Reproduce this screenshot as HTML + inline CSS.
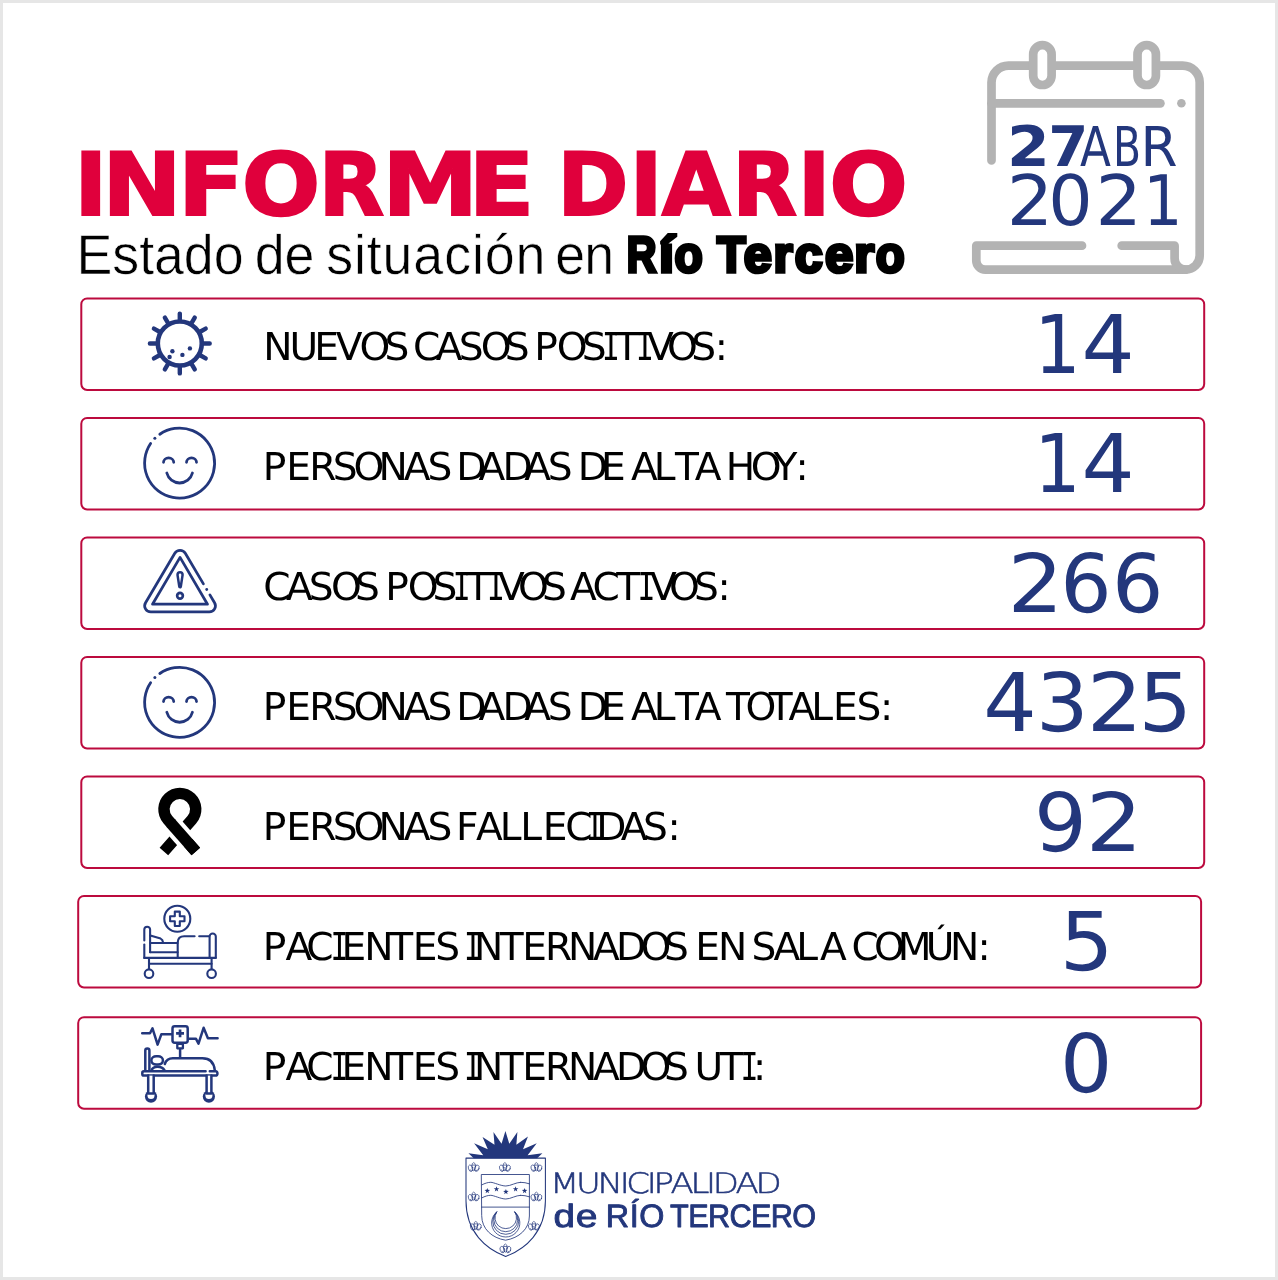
<!DOCTYPE html>
<html lang="es">
<head>
<meta charset="utf-8">
<title>Informe Diario - Río Tercero</title>
<style>
html,body{margin:0;padding:0;background:#fff;}
body{width:1278px;height:1280px;overflow:hidden;position:relative;}
svg{display:block;position:absolute;left:0;top:0;}
text{white-space:pre;font-kerning:none;text-rendering:geometricPrecision;}
</style>
</head>
<body>
<svg width="1278" height="1280" viewBox="0 0 1278 1280">
<rect x="0" y="0" width="1278" height="1280" fill="#e6e6e6"/>
<rect x="3" y="3" width="1272" height="1274" fill="#ffffff"/>

<!-- title -->
<text id="title" y="215.00" font-family="'DejaVu Sans','Liberation Sans',sans-serif" font-weight="bold" font-size="87" fill="#E0003C" stroke="#E0003C" stroke-width="2" stroke-linejoin="miter"><tspan x="74.15" textLength="33.05" lengthAdjust="spacingAndGlyphs">I</tspan><tspan x="102.29" textLength="79.42" lengthAdjust="spacingAndGlyphs">N</tspan><tspan x="177.73" textLength="66.79" lengthAdjust="spacingAndGlyphs">F</tspan><tspan x="241.70" textLength="78.55" lengthAdjust="spacingAndGlyphs">O</tspan><tspan x="318.56" textLength="65.75" lengthAdjust="spacingAndGlyphs">R</tspan><tspan x="382.15" textLength="95.95" lengthAdjust="spacingAndGlyphs">M</tspan><tspan x="468.64" textLength="65.93" lengthAdjust="spacingAndGlyphs">E</tspan><tspan> </tspan><tspan x="557.22" textLength="71.27" lengthAdjust="spacingAndGlyphs">D</tspan><tspan x="629.60" textLength="33.25" lengthAdjust="spacingAndGlyphs">I</tspan><tspan x="661.86" textLength="68.97" lengthAdjust="spacingAndGlyphs">A</tspan><tspan x="732.26" textLength="64.93" lengthAdjust="spacingAndGlyphs">R</tspan><tspan x="797.60" textLength="33.25" lengthAdjust="spacingAndGlyphs">I</tspan><tspan x="829.19" textLength="78.66" lengthAdjust="spacingAndGlyphs">O</tspan></text>
<text id="sub1" y="274.30" font-family="'Liberation Sans',sans-serif" font-size="56" fill="#000" stroke="#fff" stroke-width="0.6" stroke-linejoin="round" transform="scale(0.96 1)"><tspan x="79.78" letter-spacing="-0.084">Estado </tspan><tspan x="265.36" letter-spacing="-0.262">de </tspan><tspan x="339.80" letter-spacing="0.913">situación </tspan><tspan x="578.45" letter-spacing="-0.961">en</tspan></text>
<text id="sub2" y="272.30" font-family="'Liberation Sans',sans-serif" font-weight="bold" font-size="50.7" fill="#000" stroke="#000" stroke-width="3.6" stroke-linejoin="miter"><tspan x="626.85" textLength="29.69" lengthAdjust="spacingAndGlyphs">R</tspan><tspan x="659.00" textLength="14.95" lengthAdjust="spacingAndGlyphs">í</tspan><tspan x="674.40" textLength="28.21" lengthAdjust="spacingAndGlyphs">o</tspan><tspan> </tspan><tspan x="717.07" textLength="28.63" lengthAdjust="spacingAndGlyphs">T</tspan><tspan x="743.73" textLength="28.10" lengthAdjust="spacingAndGlyphs">e</tspan><tspan x="773.55" textLength="19.20" lengthAdjust="spacingAndGlyphs">r</tspan><tspan x="794.83" textLength="28.05" lengthAdjust="spacingAndGlyphs">c</tspan><tspan x="824.91" textLength="28.33" lengthAdjust="spacingAndGlyphs">e</tspan><tspan x="854.22" textLength="19.96" lengthAdjust="spacingAndGlyphs">r</tspan><tspan x="875.75" textLength="28.90" lengthAdjust="spacingAndGlyphs">o</tspan></text>
<!-- rows -->
<rect x="81.3" y="298.4" width="1122.9" height="91.5" rx="5.8" ry="5.8" fill="#fff" stroke="#BC0A3E" stroke-width="2"/>
<rect x="81.3" y="417.9" width="1122.9" height="91.5" rx="5.8" ry="5.8" fill="#fff" stroke="#BC0A3E" stroke-width="2"/>
<rect x="81.3" y="537.4" width="1122.9" height="91.5" rx="5.8" ry="5.8" fill="#fff" stroke="#BC0A3E" stroke-width="2"/>
<rect x="81.3" y="656.9" width="1122.9" height="91.5" rx="5.8" ry="5.8" fill="#fff" stroke="#BC0A3E" stroke-width="2"/>
<rect x="81.3" y="776.4" width="1122.9" height="91.5" rx="5.8" ry="5.8" fill="#fff" stroke="#BC0A3E" stroke-width="2"/>
<rect x="78.2" y="895.9" width="1122.9" height="91.5" rx="5.8" ry="5.8" fill="#fff" stroke="#BC0A3E" stroke-width="2"/>
<rect x="78.2" y="1017.2" width="1122.9" height="91.5" rx="5.8" ry="5.8" fill="#fff" stroke="#BC0A3E" stroke-width="2"/>
<text id="lab0" y="360.40" font-family="'DejaVu Sans','Liberation Sans',sans-serif" font-size="38.4" fill="#000" transform="scale(1.02 1)"><tspan x="258.00 283.82 308.09 329.11 352.55 376.93">NUEVOS </tspan><tspan x="405.00 427.17 449.67 471.28 494.97">CASOS </tspan><tspan x="523.78 545.83 570.26">POS</tspan><tspan font-family="'DejaVu Sans Mono','DejaVu Sans',monospace" x="590.15" textLength="17.57" lengthAdjust="spacingAndGlyphs">I</tspan><tspan x="603.27">T</tspan><tspan font-family="'DejaVu Sans Mono','DejaVu Sans',monospace" x="623.58" textLength="17.57" lengthAdjust="spacingAndGlyphs">I</tspan><tspan x="634.41 654.02 677.62 700.79">VOS:</tspan></text>
<text id="lab1" y="480.40" font-family="'DejaVu Sans','Liberation Sans',sans-serif" font-size="38.4" fill="#000" transform="scale(1.02 1)"><tspan x="257.60 280.59 303.29 326.24 346.67 371.13 395.80 419.09">PERSONAS </tspan><tspan x="447.41 469.23 492.60 514.03 537.13">DADAS </tspan><tspan x="566.33 589.27">DE </tspan><tspan x="618.74 640.94 661.70 681.19">ALTA </tspan><tspan x="711.43 736.08 758.32 779.81">HOY:</tspan></text>
<text id="lab2" y="600.40" font-family="'DejaVu Sans','Liberation Sans',sans-serif" font-size="38.4" fill="#000" transform="scale(1.02 1)"><tspan x="258.14 280.31 302.81 324.41 348.11">CASOS </tspan><tspan x="377.60 399.66 424.09">POS</tspan><tspan font-family="'DejaVu Sans Mono','DejaVu Sans',monospace" x="443.98" textLength="17.57" lengthAdjust="spacingAndGlyphs">I</tspan><tspan x="457.10">T</tspan><tspan font-family="'DejaVu Sans Mono','DejaVu Sans',monospace" x="477.41" textLength="17.57" lengthAdjust="spacingAndGlyphs">I</tspan><tspan x="488.23 507.84 531.44">VOS </tspan><tspan x="558.84 580.78 604.20">ACT</tspan><tspan font-family="'DejaVu Sans Mono','DejaVu Sans',monospace" x="624.96" textLength="17.57" lengthAdjust="spacingAndGlyphs">I</tspan><tspan x="637.15 655.98 680.36 703.44">VOS:</tspan></text>
<text id="lab3" y="720.40" font-family="'DejaVu Sans','Liberation Sans',sans-serif" font-size="38.4" fill="#000" transform="scale(1.02 1)"><tspan x="257.60 280.59 303.29 326.24 346.67 371.13 395.80 419.09">PERSONAS </tspan><tspan x="447.41 469.23 492.60 514.03 537.13">DADAS </tspan><tspan x="566.33 589.27">DE </tspan><tspan x="618.74 640.94 661.70 681.19">ALTA </tspan><tspan x="711.75 730.88 753.57 772.95 795.25 816.72 839.67 862.85">TOTALES:</tspan></text>
<text id="lab4" y="840.40" font-family="'DejaVu Sans','Liberation Sans',sans-serif" font-size="38.4" fill="#000" transform="scale(1.02 1)"><tspan x="257.60 280.59 303.29 326.24 346.67 371.13 395.80 419.09">PERSONAS </tspan><tspan x="447.02 466.78 489.86 510.15 532.21 554.12">FALLEC</tspan><tspan font-family="'DejaVu Sans Mono','DejaVu Sans',monospace" x="574.56" textLength="17.57" lengthAdjust="spacingAndGlyphs">I</tspan><tspan x="584.66 608.54 630.36 654.32">DAS:</tspan></text>
<text id="lab5" y="960.40" font-family="'DejaVu Sans','Liberation Sans',sans-serif" font-size="38.4" fill="#000" transform="scale(1.02 1)"><tspan x="257.60 279.91 300.29">PAC</tspan><tspan font-family="'DejaVu Sans Mono','DejaVu Sans',monospace" x="324.07" textLength="17.57" lengthAdjust="spacingAndGlyphs">I</tspan><tspan x="334.76 357.02 381.61 404.56 426.73">ENTES </tspan><tspan font-family="'DejaVu Sans Mono','DejaVu Sans',monospace" x="454.96" textLength="17.57" lengthAdjust="spacingAndGlyphs">I</tspan><tspan x="464.76 490.04 511.92 534.37 556.82 581.29 603.98 628.04 650.95">NTERNADOS </tspan><tspan x="681.53 703.98">EN </tspan><tspan x="736.73 758.25 780.64 804.03">SALA </tspan><tspan x="834.90 856.96 880.15 907.54 931.43 958.25">COMÚN:</tspan></text>
<text id="lab6" y="1080.40" font-family="'DejaVu Sans','Liberation Sans',sans-serif" font-size="38.4" fill="#000" transform="scale(1.02 1)"><tspan x="257.60 279.91 300.29">PAC</tspan><tspan font-family="'DejaVu Sans Mono','DejaVu Sans',monospace" x="324.07" textLength="17.57" lengthAdjust="spacingAndGlyphs">I</tspan><tspan x="334.76 357.02 381.61 404.56 426.73">ENTES </tspan><tspan font-family="'DejaVu Sans Mono','DejaVu Sans',monospace" x="454.96" textLength="17.57" lengthAdjust="spacingAndGlyphs">I</tspan><tspan x="464.76 490.04 511.92 534.37 556.82 581.29 603.98 628.04 650.95">NTERNADOS </tspan><tspan x="680.78 705.53">UT</tspan><tspan font-family="'DejaVu Sans Mono','DejaVu Sans',monospace" x="726.03" textLength="17.57" lengthAdjust="spacingAndGlyphs">I</tspan><tspan x="738.25">:</tspan></text>
<text id="num0" y="372.80" font-family="'DejaVu Sans','Liberation Sans',sans-serif" font-size="81" fill="#23377C"><tspan x="1034.18" textLength="46.46" lengthAdjust="spacingAndGlyphs">1</tspan><tspan x="1081.52" textLength="53.17" lengthAdjust="spacingAndGlyphs">4</tspan></text>
<text id="num1" y="492.30" font-family="'DejaVu Sans','Liberation Sans',sans-serif" font-size="81" fill="#23377C"><tspan x="1034.18" textLength="46.46" lengthAdjust="spacingAndGlyphs">1</tspan><tspan x="1081.52" textLength="53.17" lengthAdjust="spacingAndGlyphs">4</tspan></text>
<text id="num2" y="611.80" font-family="'DejaVu Sans','Liberation Sans',sans-serif" font-size="81" fill="#23377C"><tspan x="1007.46" textLength="55.94" lengthAdjust="spacingAndGlyphs">2</tspan><tspan x="1060.15" textLength="51.44" lengthAdjust="spacingAndGlyphs">6</tspan><tspan x="1112.05" textLength="51.44" lengthAdjust="spacingAndGlyphs">6</tspan></text>
<text id="num3" y="731.30" font-family="'DejaVu Sans','Liberation Sans',sans-serif" font-size="81" fill="#23377C"><tspan x="983.39" textLength="53.53" lengthAdjust="spacingAndGlyphs">4</tspan><tspan x="1036.10" textLength="52.62" lengthAdjust="spacingAndGlyphs">3</tspan><tspan x="1086.86" textLength="55.94" lengthAdjust="spacingAndGlyphs">2</tspan><tspan x="1138.61" textLength="53.55" lengthAdjust="spacingAndGlyphs">5</tspan></text>
<text id="num4" y="850.80" font-family="'DejaVu Sans','Liberation Sans',sans-serif" font-size="81" fill="#23377C"><tspan x="1034.06" textLength="52.88" lengthAdjust="spacingAndGlyphs">9</tspan><tspan x="1085.67" textLength="56.77" lengthAdjust="spacingAndGlyphs">2</tspan></text>
<text id="num5" y="970.30" font-family="'DejaVu Sans','Liberation Sans',sans-serif" font-size="81" fill="#23377C"><tspan x="1059.67" textLength="53.82" lengthAdjust="spacingAndGlyphs">5</tspan></text>
<text id="num6" y="1091.60" font-family="'DejaVu Sans','Liberation Sans',sans-serif" font-size="81" fill="#23377C"><tspan x="1059.97" textLength="52.40" lengthAdjust="spacingAndGlyphs">0</tspan></text>
<!-- icons -->
<g id="ico-virus" fill="none" stroke="#23377C" stroke-linecap="round">
<circle cx="179.8" cy="343.5" r="22" stroke-width="4.6"/>
<path d="M203.8,343.5 L209.7,343.5 M200.58,355.5 L205.69,358.45 M191.8,364.28 L194.75,369.39 M179.8,367.5 L179.8,373.4 M167.8,364.28 L164.85,369.39 M159.02,355.5 L153.91,358.45 M155.8,343.5 L149.9,343.5 M159.02,331.5 L153.91,328.55 M167.8,322.72 L164.85,317.61 M179.8,319.5 L179.8,313.6 M191.8,322.72 L194.75,317.61 M200.58,331.5 L205.69,328.55" stroke-width="4.4"/>
<circle cx="172.4" cy="351.2" r="2.2" fill="#23377C" stroke="none"/>
<circle cx="169.6" cy="357" r="2.2" fill="#23377C" stroke="none"/>
<circle cx="182.4" cy="354.9" r="2.2" fill="#23377C" stroke="none"/>
<circle cx="189.9" cy="348.4" r="2.2" fill="#23377C" stroke="none"/>
</g>
<g id="ico-smile1" fill="none" stroke="#23377C" stroke-width="2.8" stroke-linecap="round">
<path d="M159.8,434.26 A35 35 0 1 1 150.6,443.53"/>
<circle cx="154.87" cy="438.35" r="1.5" fill="#23377C" stroke="none"/>
<path d="M163.52,462.3 A5.1 4.4 0 0 1 173.72,462.3"/>
<path d="M186.52,462.3 A5.0 4.4 0 0 1 196.52,462.3"/>
<path d="M166.82,473 A13.2 13.2 0 0 0 192.42,473"/>
</g>
<g id="ico-warn" fill="none" stroke="#23377C" stroke-width="2.75" stroke-linecap="round" stroke-linejoin="round">
<path d="M209.91,594.9 L214.55,602.74 A6.1 6.1 0 0 1 209.3,611.95 L150.8,611.95 A6.1 6.1 0 0 1 145.55,602.74 L174.8,553.29 A6.1 6.1 0 0 1 185.3,553.29 L203.4,583.9"/>
<circle cx="206.72" cy="589.5" r="1.4" fill="#23377C" stroke="none"/>
<path d="M180.05,557.4 L207.5,604.2 L152.5,604.2 Z"/>
<path d="M177.5,574.9 A2.55 2.55 0 0 1 182.6,574.9 L180.8,586.5 A0.75 0.75 0 0 1 179.3,586.5 Z" stroke-width="2.5"/>
<circle cx="180" cy="595.8" r="2.85" stroke-width="2.7"/>
</g>
<g id="ico-smile2" fill="none" stroke="#23377C" stroke-width="2.8" stroke-linecap="round">
<path d="M159.8,673.51 A35 35 0 1 1 150.6,682.78"/>
<circle cx="154.87" cy="677.6" r="1.5" fill="#23377C" stroke="none"/>
<path d="M163.52,701.55 A5.1 4.4 0 0 1 173.72,701.55"/>
<path d="M186.52,701.55 A5.0 4.4 0 0 1 196.52,701.55"/>
<path d="M166.82,712.25 A13.2 13.2 0 0 0 192.42,712.25"/>
</g>
<g id="ico-ribbon" fill="none" stroke="#000" stroke-width="11.4" stroke-linejoin="round">
<path d="M195.82,851.59 L167.9,819.79 A15.9 15.9 0 1 1 191.8,819.79 L163.88,851.59"/>
<path d="M171.6,824.01 L188.1,842.79" stroke="#fff" stroke-width="19.8"/>
<path d="M170.61,822.88 L195.82,851.59"/>
</g>
<g id="ico-bed" fill="none" stroke="#23377C" stroke-width="2.1" stroke-linecap="round" stroke-linejoin="round">
<circle cx="177.3" cy="918.8" r="13"/>
<path d="M174.8,911.6 H179.8 V916.3 H184.5 V921.3 H179.8 V926 H174.8 V921.3 H170.1 V916.3 H174.8 Z"/>
<path d="M144.3,940.5 V929.6 A2.9 2.9 0 0 1 150.1,929.6 V952.2"/>
<path d="M144.3,944.6 V957.9"/>
<path d="M150.3,935.6 L160.6,938.6 Q162.8,939.6 163.1,942.6"/>
<path d="M150.3,943 H177.6 M150.1,952.2 H177.6"/>
<path d="M177.7,957.8 V942.5 Q177.9,936.3 184.2,936.3 H194.6 M199.2,936.3 H209.2"/>
<path d="M209.6,957.8 V936.6 A3.1 3.1 0 0 1 215.8,936.6 V957.8"/>
<path d="M144.3,957.9 H215.8 M149,963.7 H211.6"/>
<path d="M149,958 V969 M211.6,958 V969"/>
<circle cx="149" cy="973.7" r="4.3"/>
<circle cx="211.6" cy="973.7" r="4.3"/>
</g>
<g id="ico-icu" fill="none" stroke="#23377C" stroke-width="2.5" stroke-linecap="round" stroke-linejoin="round">
<path d="M142.2,1033.3 H150 L152.5,1028.3 L157.6,1044.6 L161.3,1034.3 H172.5"/>
<path d="M187.7,1038.8 H196 L198.5,1043.6 L203.6,1027.8 L207.9,1038.3 H217.6"/>
<rect x="172.5" y="1026.2" width="15.2" height="16.6" rx="2.2" fill="#fff"/>
<path d="M176.1,1033.4 H184 M180.05,1029.5 V1037.3" stroke-width="2.7" stroke-linecap="butt"/>
<rect x="177.3" y="1043.9" width="5.6" height="4.4" stroke-width="2.3"/>
<path d="M180.1,1049 V1057"/>
<path d="M145.3,1070.6 V1050.6 A2.05 2.05 0 0 1 149.4,1050.6 V1070.6"/>
<rect x="151.4" y="1056.2" width="11.5" height="8.4" rx="4.8" ry="4"/>
<path d="M151.6,1070.4 Q152.6,1066.8 157.5,1066.8 Q162.4,1066.8 164.6,1070.4"/>
<path d="M164.8,1064.0 Q166.6,1058.3 172.8,1058.3 H202.4 Q213.6,1058.3 214.8,1070.4"/>
<path d="M205.6,1071.3 H143.9 A1.6 1.6 0 0 0 142.3,1072.9 V1074 A1.6 1.6 0 0 0 143.9,1075.6 H215.8 A1.6 1.6 0 0 0 217.4,1074 V1072.9 A1.6 1.6 0 0 0 215.8,1071.3 H209.8"/>
<circle cx="151" cy="1096.6" r="6.1" fill="#23377C" stroke="none"/>
<circle cx="151" cy="1095.6" r="3.5" fill="#fff" stroke="none"/>
<circle cx="208.9" cy="1096.6" r="6.1" fill="#23377C" stroke="none"/>
<circle cx="208.9" cy="1095.6" r="3.5" fill="#fff" stroke="none"/>
<path d="M148.2,1075.6 V1093.4 H153.7 V1075.6" fill="#fff"/>
<path d="M206.6,1075.6 V1093.4 H211.4 V1075.6" fill="#fff"/>
</g>
<!-- calendar -->
<g id="calendar" fill="none" stroke="#B3B3B3" stroke-width="8.7" stroke-linecap="round" stroke-linejoin="round">
<path d="M991.5,160.5 V82.6 A17 17 0 0 1 1008.5,65.6 H1182.7 A17 17 0 0 1 1199.7,82.6 V255.6 A14 14 0 0 1 1185.7,269.6 H985.3 A9 9 0 0 1 976.3,260.6 V245.7 H1082"/>
<path d="M1121.7,245.7 H1174.6 V258.6 A11 11 0 0 0 1185.6,269.6"/>
<path d="M991.5,103.3 H1160.4"/>
<circle cx="1181.4" cy="103.3" r="4.3" fill="#B3B3B3" stroke="none"/>
<rect x="1033.2" y="45.2" width="18.4" height="39.8" rx="9.2" ry="9.2" fill="#fff"/>
<rect x="1137.5" y="45.2" width="18.4" height="39.8" rx="9.2" ry="9.2" fill="#fff"/>
</g>
<!-- logo -->
<g id="logo" fill="none" stroke="#23377C" stroke-width="0.85" stroke-linejoin="round" stroke-linecap="round">
<path d="M473.73,1158.24 L468.45,1153.17 L483.24,1155.28 L474.08,1143.31 L487.82,1149.3 L482.54,1136.97 L494.51,1144.72 L493.45,1132.04 L501.55,1143.66 L505.42,1130.99 L509.3,1143.66 L517.39,1132.04 L516.34,1144.72 L527.96,1136.62 L523.03,1149.3 L536.76,1143.31 L527.61,1155.28 L542.39,1153.17 L537.11,1158.24 Z" fill="#23377C" stroke="none"/>
<path d="M466,1158.1 H545.4 V1201 C545.4,1232 525.4,1249 505.7,1256.4 C486,1249 466,1232 466,1201 Z" stroke-width="1.05"/>
<path d="M481.7,1174.5 H529.4 V1216 C529.4,1229 519,1238 505.55,1240.2 C492,1238 481.7,1229 481.7,1216 Z"/>
<path d="M481.7,1207.1 H529.4"/>
<path d="M481.8,1184.9 C485,1183.2 488,1182.3 490.8,1182.3 S501,1186 505.8,1186 S516,1182.3 520.6,1182.3"/>
<path d="M520.6,1182.3 Q525,1182.3 529.4,1183.8"/>
<path d="M481.8,1197.9 C485,1196.2 488,1195.3 490.8,1195.3 S501,1199 505.8,1199 S516,1195.3 520.6,1195.3"/>
<path d="M520.6,1195.3 Q525,1195.3 529.4,1196.8"/>
<polygon points="487.3,1187.9 487.98,1189.87 490.06,1189.9 488.39,1191.16 489,1193.15 487.3,1191.95 485.6,1193.15 486.21,1191.16 484.54,1189.9 486.62,1189.87" fill="#23377C" stroke="none"/>
<polygon points="496.5,1186.3 497.18,1188.27 499.26,1188.3 497.59,1189.56 498.2,1191.55 496.5,1190.35 494.8,1191.55 495.41,1189.56 493.74,1188.3 495.82,1188.27" fill="#23377C" stroke="none"/>
<polygon points="505.9,1188.9 506.58,1190.87 508.66,1190.9 506.99,1192.16 507.6,1194.15 505.9,1192.95 504.2,1194.15 504.81,1192.16 503.14,1190.9 505.22,1190.87" fill="#23377C" stroke="none"/>
<polygon points="515.6,1186.2 516.28,1188.17 518.36,1188.2 516.69,1189.46 517.3,1191.45 515.6,1190.25 513.9,1191.45 514.51,1189.46 512.84,1188.2 514.92,1188.17" fill="#23377C" stroke="none"/>
<polygon points="524.6,1187.9 525.28,1189.87 527.36,1189.9 525.69,1191.16 526.3,1193.15 524.6,1191.95 522.9,1193.15 523.51,1191.16 521.84,1189.9 523.92,1189.87" fill="#23377C" stroke="none"/>
<path d="M496.6,1212 A14.17 14.17 0 1 0 514.9,1212" stroke-width="0.8"/>
<path d="M496.6,1212 A13.03 13.03 0 1 0 514.9,1212" stroke-width="0.8"/>
<path d="M496.6,1212 A11.97 11.97 0 1 0 514.9,1212" stroke-width="0.8"/>
<path d="M496.6,1212 A10.82 10.82 0 1 0 514.9,1212" stroke-width="0.8"/>
<g stroke-width="0.65" transform="translate(473.7 1167.3)"><ellipse cx="0" cy="-0.6" rx="1.9" ry="4.1"/><ellipse cx="-3.1" cy="0.9" rx="2.2" ry="3.3" transform="rotate(-18 -3.1 0.9)"/><ellipse cx="3.1" cy="0.9" rx="2.2" ry="3.3" transform="rotate(18 3.1 0.9)"/><path d="M-3.6,2.6 Q-2.4,4.4 -0.9,3 M3.6,2.6 Q2.4,4.4 0.9,3 M-1.4,-2.2 H1.4"/></g>
<g stroke-width="0.65" transform="translate(504.9 1167.3)"><ellipse cx="0" cy="-0.6" rx="1.9" ry="4.1"/><ellipse cx="-3.1" cy="0.9" rx="2.2" ry="3.3" transform="rotate(-18 -3.1 0.9)"/><ellipse cx="3.1" cy="0.9" rx="2.2" ry="3.3" transform="rotate(18 3.1 0.9)"/><path d="M-3.6,2.6 Q-2.4,4.4 -0.9,3 M3.6,2.6 Q2.4,4.4 0.9,3 M-1.4,-2.2 H1.4"/></g>
<g stroke-width="0.65" transform="translate(536.4 1167.3)"><ellipse cx="0" cy="-0.6" rx="1.9" ry="4.1"/><ellipse cx="-3.1" cy="0.9" rx="2.2" ry="3.3" transform="rotate(-18 -3.1 0.9)"/><ellipse cx="3.1" cy="0.9" rx="2.2" ry="3.3" transform="rotate(18 3.1 0.9)"/><path d="M-3.6,2.6 Q-2.4,4.4 -0.9,3 M3.6,2.6 Q2.4,4.4 0.9,3 M-1.4,-2.2 H1.4"/></g>
<g stroke-width="0.65" transform="translate(473.7 1196.8)"><ellipse cx="0" cy="-0.6" rx="1.9" ry="4.1"/><ellipse cx="-3.1" cy="0.9" rx="2.2" ry="3.3" transform="rotate(-18 -3.1 0.9)"/><ellipse cx="3.1" cy="0.9" rx="2.2" ry="3.3" transform="rotate(18 3.1 0.9)"/><path d="M-3.6,2.6 Q-2.4,4.4 -0.9,3 M3.6,2.6 Q2.4,4.4 0.9,3 M-1.4,-2.2 H1.4"/></g>
<g stroke-width="0.65" transform="translate(536.4 1196.8)"><ellipse cx="0" cy="-0.6" rx="1.9" ry="4.1"/><ellipse cx="-3.1" cy="0.9" rx="2.2" ry="3.3" transform="rotate(-18 -3.1 0.9)"/><ellipse cx="3.1" cy="0.9" rx="2.2" ry="3.3" transform="rotate(18 3.1 0.9)"/><path d="M-3.6,2.6 Q-2.4,4.4 -0.9,3 M3.6,2.6 Q2.4,4.4 0.9,3 M-1.4,-2.2 H1.4"/></g>
<g stroke-width="0.65" transform="translate(475.8 1226.1)"><ellipse cx="0" cy="-0.6" rx="1.9" ry="4.1"/><ellipse cx="-3.1" cy="0.9" rx="2.2" ry="3.3" transform="rotate(-18 -3.1 0.9)"/><ellipse cx="3.1" cy="0.9" rx="2.2" ry="3.3" transform="rotate(18 3.1 0.9)"/><path d="M-3.6,2.6 Q-2.4,4.4 -0.9,3 M3.6,2.6 Q2.4,4.4 0.9,3 M-1.4,-2.2 H1.4"/></g>
<g stroke-width="0.65" transform="translate(533.9 1226.1)"><ellipse cx="0" cy="-0.6" rx="1.9" ry="4.1"/><ellipse cx="-3.1" cy="0.9" rx="2.2" ry="3.3" transform="rotate(-18 -3.1 0.9)"/><ellipse cx="3.1" cy="0.9" rx="2.2" ry="3.3" transform="rotate(18 3.1 0.9)"/><path d="M-3.6,2.6 Q-2.4,4.4 -0.9,3 M3.6,2.6 Q2.4,4.4 0.9,3 M-1.4,-2.2 H1.4"/></g>
<g stroke-width="0.65" transform="translate(505.4 1248.7)"><ellipse cx="0" cy="-0.6" rx="1.9" ry="4.1"/><ellipse cx="-3.1" cy="0.9" rx="2.2" ry="3.3" transform="rotate(-18 -3.1 0.9)"/><ellipse cx="3.1" cy="0.9" rx="2.2" ry="3.3" transform="rotate(18 3.1 0.9)"/><path d="M-3.6,2.6 Q-2.4,4.4 -0.9,3 M3.6,2.6 Q2.4,4.4 0.9,3 M-1.4,-2.2 H1.4"/></g>
</g>
<text id="d27" y="166.40" font-family="'DejaVu Sans','Liberation Sans',sans-serif" font-weight="bold" font-size="56" fill="#23377C"><tspan x="1006.93" textLength="42.82" lengthAdjust="spacingAndGlyphs">2</tspan><tspan x="1048.34" textLength="40.15" lengthAdjust="spacingAndGlyphs">7</tspan></text>
<text id="dabr" y="166.40" font-family="'DejaVu Sans','Liberation Sans',sans-serif" font-size="55" fill="#23377C"><tspan x="1080.05" textLength="30.93" lengthAdjust="spacingAndGlyphs">A</tspan><tspan x="1113.00" textLength="27.99" lengthAdjust="spacingAndGlyphs">B</tspan><tspan x="1140.56" textLength="37.07" lengthAdjust="spacingAndGlyphs">R</tspan></text>
<text id="dyear" y="224.90" font-family="'DejaVu Sans','Liberation Sans',sans-serif" font-size="69.8" fill="#23377C"><tspan x="1006.65" textLength="46.46" lengthAdjust="spacingAndGlyphs">2</tspan><tspan x="1048.30" textLength="44.44" lengthAdjust="spacingAndGlyphs">0</tspan><tspan x="1095.45" textLength="46.46" lengthAdjust="spacingAndGlyphs">2</tspan><tspan x="1143.22" textLength="39.28" lengthAdjust="spacingAndGlyphs">1</tspan></text>
<text id="muni" y="1193.20" font-family="'DejaVu Sans','Liberation Sans',sans-serif" font-weight="200" font-size="28.3" fill="#23377C" stroke="#23377C" stroke-width="0.5" stroke-linejoin="round" transform="scale(1.2 1)"><tspan x="458.41" letter-spacing="-2.777">MUNICIPALIDAD</tspan></text>
<text id="rio_de" y="1227.10" font-family="'Liberation Sans',sans-serif" font-size="32.3" fill="#23377C" stroke="#23377C" stroke-width="0.9" stroke-linejoin="round"><tspan x="553.43" textLength="21.52" lengthAdjust="spacingAndGlyphs">d</tspan><tspan x="575.89" textLength="21.69" lengthAdjust="spacingAndGlyphs">e</tspan><tspan> </tspan></text>
<text id="rio_rio" y="1227.10" font-family="'Liberation Sans',sans-serif" font-size="32.3" fill="#23377C" stroke="#23377C" stroke-width="0.9" stroke-linejoin="round"><tspan x="605.80" letter-spacing="0.536">RÍO </tspan></text>
<text id="rio_ter" y="1227.10" font-family="'Liberation Sans',sans-serif" font-size="32.3" fill="#23377C" stroke="#23377C" stroke-width="0.9" stroke-linejoin="round" transform="scale(0.95 1)"><tspan x="705.33" letter-spacing="-0.696">TERCERO</tspan></text>
</svg>
</body>
</html>
